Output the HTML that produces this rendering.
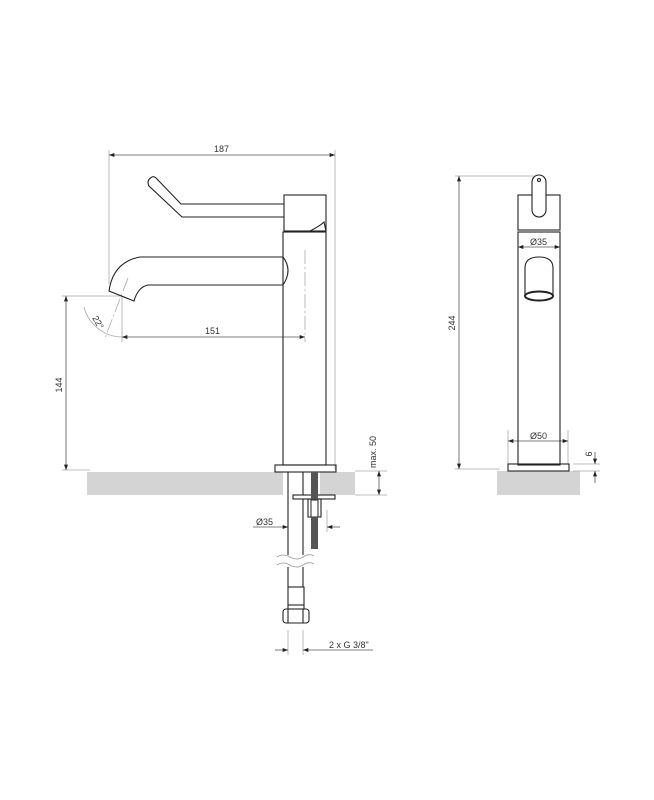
<!DOCTYPE html>
<html><head><meta charset="utf-8"><style>
html,body{margin:0;padding:0;background:#fff}
svg{display:block}
text{font-family:"Liberation Sans",sans-serif;font-size:9px;fill:#333}
</style></head><body>
<svg width="654" height="800" viewBox="0 0 654 800" xmlns="http://www.w3.org/2000/svg">
<defs>
<marker id="a" viewBox="0 0 8 6" refX="8" refY="3" markerWidth="7" markerHeight="5" orient="auto-start-reverse"><path d="M0,0 L8,3 L0,6z" fill="#222"/></marker>
</defs>
<!-- ground -->
<rect x="87" y="472" width="196" height="23" fill="#d4d4d4"/>
<rect x="320" y="472" width="35" height="23" fill="#d4d4d4"/>
<rect x="497" y="471" width="83" height="24" fill="#d4d4d4"/>

<g fill="none" stroke="#aaa" stroke-width="0.8">
<!-- extension lines -->
<line x1="109" y1="150" x2="109" y2="284"/>
<line x1="335" y1="150" x2="335" y2="470"/>
<line x1="62" y1="296" x2="122" y2="296"/>
<line x1="122" y1="296" x2="122" y2="342"/>
<line x1="62" y1="470" x2="90" y2="470"/>
<line x1="305" y1="250" x2="305" y2="342" stroke-dasharray="14,3,2,3"/>
<line x1="128" y1="278" x2="105" y2="338" stroke-dasharray="14,3,2,3"/>
<path d="M84,307 A40,40 0 0 0 122,337"/>
<line x1="355" y1="471" x2="387" y2="471"/>
<line x1="355" y1="495" x2="387" y2="495"/>
<line x1="327" y1="510" x2="327" y2="532"/>
<line x1="288" y1="630" x2="288" y2="655"/>
<line x1="303" y1="630" x2="303" y2="655"/>
<line x1="455" y1="176" x2="537" y2="176"/>
<line x1="455" y1="469" x2="500" y2="469"/>
<line x1="508" y1="430" x2="508" y2="464"/>
<line x1="568" y1="430" x2="568" y2="464"/>
<line x1="573" y1="464" x2="600" y2="464"/>
<line x1="573" y1="471" x2="600" y2="471"/>
</g>
<g fill="none" stroke="#555" stroke-width="0.8">
<line x1="109" y1="155" x2="335" y2="155" marker-start="url(#a)" marker-end="url(#a)"/>
<line x1="122" y1="337" x2="305" y2="337" marker-start="url(#a)" marker-end="url(#a)"/>
<line x1="66" y1="296" x2="66" y2="470" marker-start="url(#a)" marker-end="url(#a)"/>
<line x1="379" y1="471" x2="379" y2="495" marker-start="url(#a)" marker-end="url(#a)"/>
<line x1="253" y1="527" x2="288" y2="527" marker-end="url(#a)"/>
<line x1="340" y1="527" x2="327" y2="527" marker-end="url(#a)"/>
<line x1="275" y1="650" x2="288" y2="650" marker-end="url(#a)"/>
<line x1="373" y1="650" x2="303" y2="650" marker-end="url(#a)"/>
<line x1="459" y1="176" x2="459" y2="469" marker-start="url(#a)" marker-end="url(#a)"/>
<line x1="518" y1="247" x2="560" y2="247" marker-start="url(#a)" marker-end="url(#a)"/>
<line x1="508" y1="441" x2="568" y2="441" marker-start="url(#a)" marker-end="url(#a)"/>
<line x1="595" y1="452" x2="595" y2="464" marker-end="url(#a)"/>
<line x1="595" y1="483" x2="595" y2="471" marker-end="url(#a)"/>
</g>

<g fill="none" stroke="#222" stroke-width="1.1">
<!-- left lever -->
<path d="M152,177 Q146,180 149,186 L182,217 L284,217 M156,178 L181,204 L284,204"/>
<path d="M152,177 Q154,176 156,178"/>
<rect x="284" y="195" width="42" height="36"/>
<path d="M310,231 Q320,226 324,222 L326,231"/>
<rect x="283" y="232" width="43" height="233"/>
<!-- spout -->
<path d="M283,257 L140,257 Q113,262 109,291 L134,301 Q138,287 148,285 L283,285"/>
<path d="M283,257 Q293,270 283,285"/>
<rect x="275" y="465" width="61" height="7"/>
<!-- under -->
<line x1="288" y1="472" x2="288" y2="587"/>
<line x1="303" y1="472" x2="303" y2="587"/>
<rect x="293" y="495" width="42" height="4" fill="#fff"/>
<rect x="308" y="499" width="13" height="18"/>
<rect x="288" y="587" width="16" height="22"/>
<line x1="288" y1="605" x2="304" y2="605"/>
<rect x="283" y="609" width="26" height="14" rx="3"/>
<line x1="288" y1="609" x2="288" y2="623"/><line x1="303" y1="609" x2="303" y2="623"/>
<!-- right view -->
<rect x="518" y="195" width="42" height="35"/>
<rect x="532" y="175" width="14" height="42" rx="7" fill="#fff"/>
<circle cx="539" cy="180" r="1.5"/>
<rect x="518" y="232" width="42" height="233"/>
<path d="M525,296 L525,268 Q525,257 539,257 Q553,257 553,268 L553,296"/>
<ellipse cx="539" cy="296" rx="14" ry="4.5" stroke-width="2"/>
<rect x="508" y="464" width="61" height="7"/>
</g>
<rect x="311" y="472" width="7" height="77" fill="#555"/>
<rect x="311" y="500" width="7" height="17" fill="#fff" stroke="#222" stroke-width="1"/>
<rect x="311" y="517" width="7" height="32" fill="#555"/>
<!-- break -->
<rect x="280" y="555" width="32" height="12" fill="#fff"/>
<g fill="none" stroke="#999" stroke-width="0.8">
<path d="M277,557 Q283,553 290,557 T303,557 T314,556"/>
<path d="M277,565 Q283,561 290,565 T303,565 T314,564"/>
</g>

<text x="214" y="152">187</text>
<text x="205" y="334">151</text>
<text x="62" y="385" transform="rotate(-90 62 385)" text-anchor="middle">144</text>
<text x="92" y="318" transform="rotate(60 92 318)" font-size="8">22°</text>
<text x="376" y="452" transform="rotate(-90 376 452)" text-anchor="middle">max. 50</text>
<text x="256" y="525">Ø35</text>
<text x="329" y="648">2 x G 3/8"</text>
<text x="455" y="323" transform="rotate(-90 455 323)" text-anchor="middle">244</text>
<text x="530" y="245">Ø35</text>
<text x="530" y="439">Ø50</text>
<text x="592" y="454" transform="rotate(-90 592 454)" text-anchor="middle">6</text>
</svg>
</body></html>
